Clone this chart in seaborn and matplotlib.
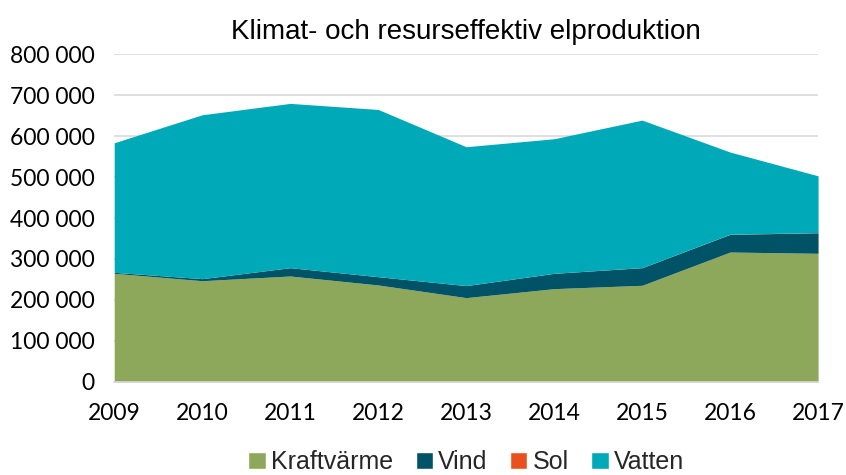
import seaborn as sns
import pandas as pd
import matplotlib.pyplot as plt
from matplotlib.ticker import FuncFormatter
from matplotlib.patches import Patch

years = [2009, 2010, 2011, 2012, 2013, 2014, 2015, 2016, 2017]
kraftvarme = [265000, 247000, 258500, 236600, 205700, 227600, 235800, 317000, 313900]
vind = [2500, 5000, 20300, 20200, 29300, 37400, 43000, 43200, 50100]
sol = [0, 0, 0, 0, 100, 100, 200, 300, 400]
vatten = [316200, 400000, 401000, 408200, 338900, 328400, 360000, 200500, 138600]

series = ['Kraftvärme', 'Vind', 'Sol', 'Vatten']
colors = ['#8EA85B', '#005366', '#E8511E', '#00A9B7']

df = pd.DataFrame({'year': years, 'Kraftvärme': kraftvarme, 'Vind': vind,
                   'Sol': sol, 'Vatten': vatten})

sns.set_theme(style="white")
plt.rcParams['font.family'] = ['Lato', 'DejaVu Sans']

fig, ax = plt.subplots(figsize=(8.46, 4.75), dpi=100)
fig.subplots_adjust(left=0.135, right=0.967, bottom=0.196, top=0.886)

ax.stackplot(df['year'], [df[s] for s in series], colors=colors, linewidth=0)

ax.set_xlim(2009, 2017)
ax.set_ylim(0, 800000)
ax.set_yticks(range(0, 800001, 100000))
ax.set_xticks(years)
ax.yaxis.set_major_formatter(FuncFormatter(lambda v, p: f"{int(v):,}".replace(",", " ")))
ax.grid(axis='y', color='#D9D9D9', lw=1.2)
ax.set_axisbelow(True)
for s in ['top', 'right', 'left']:
    ax.spines[s].set_visible(False)
ax.spines['bottom'].set_color('#D9D9D9')
ax.spines['bottom'].set_linewidth(1.2)
ax.tick_params(axis='x', direction='out', length=7, width=1.2, color='#D9D9D9',
               labelsize=16.5, pad=8)
ax.tick_params(axis='y', length=0, labelsize=16.5, pad=14)
for lab in ax.get_xticklabels() + ax.get_yticklabels():
    lab.set_color('black')

ax.set_title("Klimat- och resurseffektiv elproduktion", fontsize=20, pad=11,
             family=['Liberation Sans', 'DejaVu Sans'], color='black')

handles = [Patch(facecolor=c, label=s) for s, c in zip(series, colors)]
leg = ax.legend(handles=handles, loc='center', bbox_to_anchor=(0.5, -0.245),
                ncol=4, frameon=False, handlelength=0.7, handleheight=0.7,
                handletextpad=0.2, columnspacing=0.9, borderpad=0.2,
                prop={'family': ['Liberation Sans', 'DejaVu Sans'], 'size': 18})

plt.savefig('out.png', dpi=100)
